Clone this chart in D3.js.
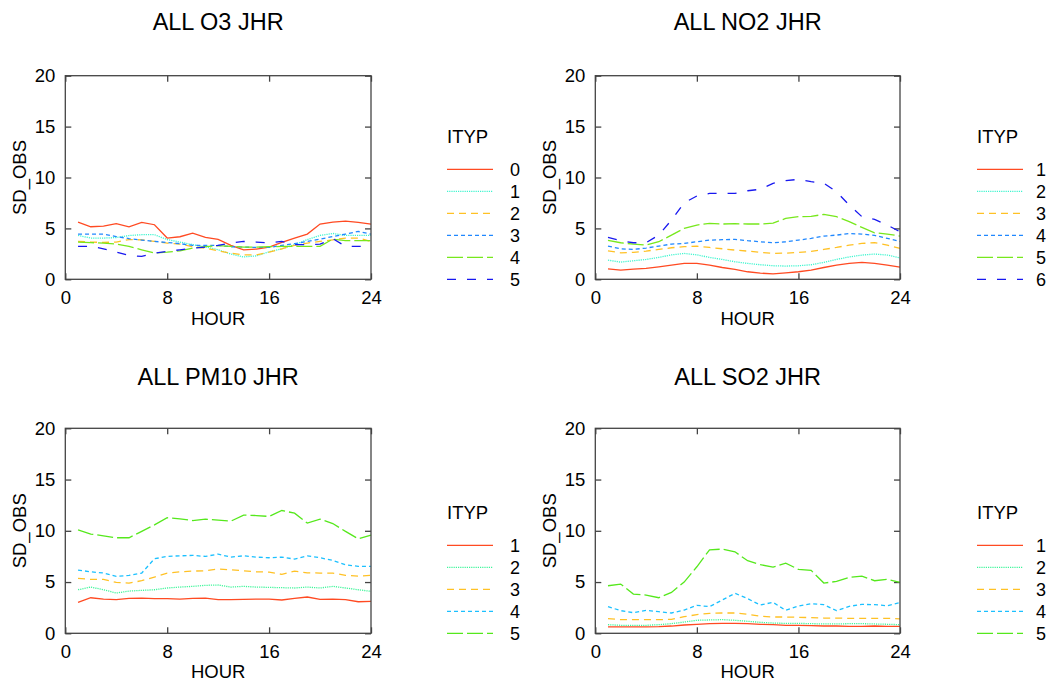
<!DOCTYPE html>
<html>
<head>
<meta charset="utf-8">
<script src="https://cdn.jsdelivr.net/npm/d3@7"></script>
<style>
  body { margin: 0; background: #fff; }
  text { font-family: "Liberation Sans", Arial, sans-serif; fill: #000; }
</style>
</head>
<body>
<div id="chart"></div>
<script>
// hours on the x axis
const hours = [1, 2, 3, 4, 5, 6, 7, 8, 9, 10, 11, 12, 13, 14, 15, 16, 17, 18, 19, 20, 21, 22, 23, 24];
const xTicks = [0, 8, 16, 24];
const yTicks = [0, 5, 10, 15, 20];

// O3 panel, ITYP 0..5
const o3Keys = ["0", "1", "2", "3", "4", "5"];
const o3_0 = [5.62, 5.16, 5.23, 5.46, 5.16, 5.59, 5.36, 4.05, 4.18, 4.54, 4.11, 3.92, 3.33, 2.9, 2.97, 3.16, 3.62, 4.05, 4.44, 5.43, 5.62, 5.72, 5.59, 5.43];
const o3_1 = [4.31, 4.05, 4.05, 4.1, 4.3, 4.38, 4.38, 3.9, 3.66, 3.4, 3.2, 2.9, 2.48, 2.2, 2.3, 2.7, 3.0, 3.4, 3.9, 4.31, 4.5, 4.31, 4.31, 4.31];
const o3_2 = [3.72, 3.66, 3.62, 3.66, 3.9, 3.88, 3.72, 3.55, 3.46, 3.2, 3.06, 2.8, 2.57, 2.4, 2.4, 2.67, 3.0, 3.33, 3.56, 3.72, 3.88, 4.05, 4.05, 3.72];
const o3_3 = [4.44, 4.44, 4.44, 4.2, 4.0, 3.85, 3.72, 3.62, 3.5, 3.33, 3.33, 3.33, 3.2, 3.16, 3.13, 3.13, 3.33, 3.5, 3.72, 3.95, 4.2, 4.44, 4.7, 4.44];
const o3_4 = [3.66, 3.6, 3.56, 3.46, 3.23, 2.9, 2.57, 2.67, 2.8, 3.06, 3.2, 3.3, 3.23, 3.16, 3.16, 3.2, 3.23, 3.23, 3.23, 3.23, 3.95, 3.8, 3.8, 3.8];
const o3_5 = [3.23, 3.23, 3.0, 2.67, 2.34, 2.25, 2.57, 2.74, 2.9, 3.06, 3.16, 3.33, 3.56, 3.72, 3.66, 3.56, 3.72, 3.4, 3.4, 3.45, 4.0, 3.23, 3.23, 3.23];

// NO2 panel, ITYP 1..6
const no2Keys = ["1", "2", "3", "4", "5", "6"];
const no2_1 = [1.03, 0.9, 1.0, 1.07, 1.23, 1.4, 1.56, 1.56, 1.4, 1.16, 0.97, 0.74, 0.6, 0.54, 0.64, 0.74, 0.9, 1.16, 1.4, 1.56, 1.66, 1.56, 1.4, 1.2];
const no2_2 = [1.88, 1.69, 1.82, 1.95, 2.15, 2.4, 2.54, 2.4, 2.15, 1.95, 1.72, 1.56, 1.43, 1.33, 1.3, 1.33, 1.43, 1.66, 1.95, 2.2, 2.38, 2.48, 2.38, 2.1];
const no2_3 = [2.8, 2.6, 2.64, 2.77, 2.93, 3.1, 3.2, 3.26, 3.13, 3.0, 2.87, 2.77, 2.64, 2.54, 2.57, 2.64, 2.74, 2.93, 3.13, 3.36, 3.52, 3.6, 3.36, 3.03];
const no2_4 = [3.26, 3.0, 2.93, 3.07, 3.26, 3.46, 3.52, 3.69, 3.85, 3.89, 3.92, 3.79, 3.69, 3.59, 3.69, 3.85, 4.02, 4.25, 4.34, 4.5, 4.44, 4.31, 4.02, 3.72];
const no2_5 = [3.82, 3.59, 3.46, 3.36, 3.69, 4.34, 5.0, 5.33, 5.49, 5.43, 5.46, 5.43, 5.43, 5.52, 5.98, 6.15, 6.18, 6.38, 6.15, 5.66, 5.1, 4.57, 4.44, 4.25];
const no2_6 = [4.11, 3.79, 3.59, 3.59, 4.34, 5.82, 7.52, 8.18, 8.44, 8.44, 8.44, 8.7, 8.84, 9.43, 9.69, 9.82, 9.59, 9.43, 8.6, 7.3, 6.15, 5.89, 5.33, 4.67];

// PM10 panel, ITYP 1..5
const pm10Keys = ["1", "2", "3", "4", "5"];
const pm10_1 = [3.02, 3.47, 3.34, 3.28, 3.41, 3.44, 3.38, 3.38, 3.34, 3.41, 3.44, 3.28, 3.28, 3.31, 3.34, 3.34, 3.25, 3.41, 3.54, 3.31, 3.34, 3.28, 3.08, 3.12];
const pm10_2 = [4.25, 4.51, 4.25, 3.93, 4.12, 4.19, 4.25, 4.42, 4.51, 4.58, 4.68, 4.71, 4.51, 4.58, 4.51, 4.48, 4.45, 4.42, 4.51, 4.42, 4.58, 4.42, 4.25, 4.09];
const pm10_3 = [5.36, 5.26, 5.26, 4.97, 4.9, 5.13, 5.49, 5.88, 6.0, 6.07, 6.1, 6.27, 6.2, 6.1, 6.0, 5.97, 5.75, 6.07, 5.9, 5.88, 5.88, 5.65, 5.58, 5.65];
const pm10_4 = [6.17, 6.0, 5.88, 5.55, 5.65, 5.88, 7.27, 7.5, 7.56, 7.6, 7.5, 7.73, 7.43, 7.56, 7.43, 7.37, 7.43, 7.24, 7.56, 7.37, 7.11, 6.69, 6.53, 6.53];
const pm10_5 = [10.1, 9.68, 9.51, 9.32, 9.32, 9.94, 10.58, 11.27, 11.17, 11.0, 11.14, 11.04, 10.94, 11.53, 11.49, 11.4, 11.98, 11.72, 10.75, 11.14, 10.71, 9.94, 9.22, 9.58];

// SO2 panel, ITYP 1..5
const so2Keys = ["1", "2", "3", "4", "5"];
const so2_1 = [0.62, 0.62, 0.62, 0.62, 0.65, 0.71, 0.81, 0.88, 0.94, 0.97, 0.97, 0.94, 0.88, 0.84, 0.78, 0.78, 0.75, 0.71, 0.71, 0.68, 0.68, 0.71, 0.68, 0.68];
const so2_2 = [0.84, 0.78, 0.78, 0.78, 0.84, 0.94, 1.1, 1.27, 1.3, 1.33, 1.27, 1.17, 1.07, 1.0, 0.97, 0.97, 0.94, 0.91, 0.91, 0.94, 0.94, 0.91, 0.88, 0.84];
const so2_3 = [1.43, 1.33, 1.33, 1.33, 1.33, 1.36, 1.62, 1.82, 1.95, 1.98, 1.98, 1.85, 1.66, 1.59, 1.59, 1.56, 1.53, 1.49, 1.49, 1.46, 1.46, 1.46, 1.46, 1.4];
const so2_4 = [2.6, 2.21, 2.01, 2.24, 2.11, 1.98, 2.27, 2.73, 2.6, 3.25, 3.9, 3.38, 2.76, 3.02, 2.24, 2.66, 2.89, 2.79, 2.21, 2.63, 2.82, 2.79, 2.69, 2.99];
const so2_5 = [4.64, 4.8, 3.83, 3.73, 3.47, 3.99, 5.0, 6.49, 8.15, 8.21, 7.95, 7.08, 6.69, 6.46, 6.85, 6.23, 6.14, 4.9, 5.06, 5.45, 5.58, 5.13, 5.26, 4.97];

// styles
const colors6 = ["#ff4a22", "#3ff5cf", "#ffc125", "#2088ff", "#77e81c", "#1818f0"];
const colors5 = ["#ff4a22", "#3ff59a", "#ffc125", "#1cc0ff", "#55e81c"];
const dashes = ["none", "1.2,1", "7,5", "4,3", "16,4", "9,11"];

const panels = [
  { title: "ALL O3 JHR", keys: o3Keys, series: [o3_0, o3_1, o3_2, o3_3, o3_4, o3_5], colors: colors6,
    x0: 65.3, x1: 371, y0: 75.7, y1: 279.3, titleY: 30, legX: 447, legLab: 63, labY: 325 },
  { title: "ALL NO2 JHR", keys: no2Keys, series: [no2_1, no2_2, no2_3, no2_4, no2_5, no2_6], colors: colors6,
    x0: 595.3, x1: 900, y0: 75.7, y1: 279.3, titleY: 30, legX: 977, legLab: 59, labY: 325 },
  { title: "ALL PM10 JHR", keys: pm10Keys, series: [pm10_1, pm10_2, pm10_3, pm10_4, pm10_5], colors: colors5,
    x0: 65.3, x1: 371, y0: 428.3, y1: 633.3, titleY: 385, legX: 447, legLab: 63, labY: 678 },
  { title: "ALL SO2 JHR", keys: so2Keys, series: [so2_1, so2_2, so2_3, so2_4, so2_5], colors: colors5,
    x0: 595.3, x1: 900, y0: 428.3, y1: 633.3, titleY: 385, legX: 977, legLab: 59, labY: 678 }
];

const svg = d3.select("#chart")
  .append("svg")
  .attr("width", 1048)
  .attr("height", 682);

panels.forEach(drawPanel);

function drawPanel(p) {
  const x = d3.scaleLinear().domain([0, 24]).range([p.x0, p.x1]);
  const y = d3.scaleLinear().domain([0, 20]).range([p.y1, p.y0]);
  const g = svg.append("g");
  const tickLen = 6;

  // title
  g.append("text")
    .attr("x", (p.x0 + p.x1) / 2)
    .attr("y", p.titleY)
    .attr("text-anchor", "middle")
    .style("font-size", "23.5px")
    .text(p.title);

  // axes with inward ticks on all four sides
  g.append("g")
    .attr("transform", "translate(" + p.x0 + ",0)")
    .call(d3.axisLeft(y).tickValues(yTicks).tickSize(-tickLen).tickPadding(10).tickSizeOuter(0))
    .call(styleAxis);
  g.append("g")
    .attr("transform", "translate(" + p.x1 + ",0)")
    .call(d3.axisRight(y).tickValues(yTicks).tickSize(-tickLen).tickFormat("").tickSizeOuter(0))
    .call(styleAxis);
  g.append("g")
    .attr("transform", "translate(0," + p.y1 + ")")
    .call(d3.axisBottom(x).tickValues(xTicks).tickSize(-tickLen).tickPadding(12).tickSizeOuter(0))
    .call(styleAxis);
  g.append("g")
    .attr("transform", "translate(0," + p.y0 + ")")
    .call(d3.axisTop(x).tickValues(xTicks).tickSize(-tickLen).tickFormat("").tickSizeOuter(0))
    .call(styleAxis);

  // axis labels
  g.append("text")
    .attr("x", (p.x0 + p.x1) / 2)
    .attr("y", p.labY)
    .attr("text-anchor", "middle")
    .style("font-size", "18.5px")
    .text("HOUR");
  g.append("text")
    .attr("transform", "translate(" + (p.x0 - 39) + "," + ((p.y0 + p.y1) / 2) + ") rotate(-90)")
    .attr("text-anchor", "middle")
    .style("font-size", "18.5px")
    .text("SD_OBS");

  // series lines
  const line = d3.line()
    .x(function (d, i) { return x(hours[i]); })
    .y(function (d) { return y(d); });

  g.selectAll("path.series")
    .data(p.series)
    .enter()
    .append("path")
    .attr("class", "series")
    .attr("d", line)
    .attr("fill", "none")
    .attr("stroke", function (d, i) { return p.colors[i]; })
    .attr("stroke-width", 1.3)
    .attr("stroke-dasharray", function (d, i) { return dashes[i]; });

  // legend, bottom aligned with plot
  const rowH = 22;
  const n = p.keys.length;
  const firstRow = p.y1 - (n - 1) * rowH;
  const leg = g.append("g");
  leg.append("text")
    .attr("x", p.legX)
    .attr("y", firstRow - 26)
    .style("font-size", "18.5px")
    .text("ITYP");
  const rows = leg.selectAll("g.row")
    .data(p.keys)
    .enter()
    .append("g")
    .attr("class", "row")
    .attr("transform", function (d, i) { return "translate(" + p.legX + "," + (firstRow + i * rowH) + ")"; });
  rows.append("line")
    .attr("x1", 0).attr("x2", 46)
    .attr("stroke", function (d, i) { return p.colors[i]; })
    .attr("stroke-width", 1.3)
    .attr("stroke-dasharray", function (d, i) { return dashes[i]; });
  rows.append("text")
    .attr("x", p.legLab)
    .attr("dy", "0.36em")
    .style("font-size", "18px")
    .text(function (d) { return d; });

  // frame
  g.append("rect")
    .attr("x", p.x0).attr("y", p.y0)
    .attr("width", p.x1 - p.x0).attr("height", p.y1 - p.y0)
    .attr("fill", "none")
    .attr("stroke", "#444")
    .attr("stroke-width", 1.3);
}

function styleAxis(sel) {
  sel.select(".domain").remove();
  sel.selectAll(".tick line").attr("stroke", "#444").attr("stroke-width", 1.3);
  sel.selectAll(".tick text").style("font-size", "18.5px").attr("fill", "#000");
}
</script>
</body>
</html>
